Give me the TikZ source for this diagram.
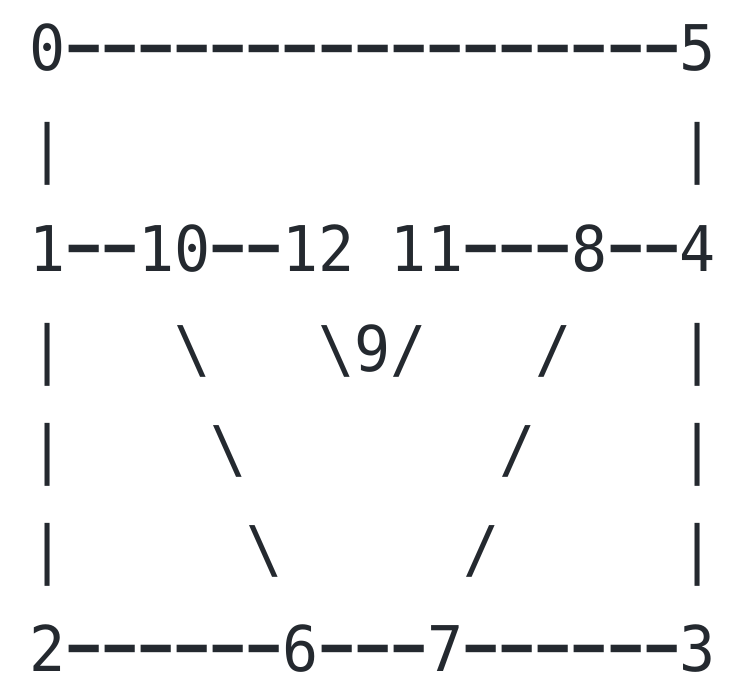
\documentclass[tikz,border=0pt]{standalone}
\usepackage{fontspec}
\usepackage{graphicx}
\newfontfamily\asciifont{DejaVu Sans Mono}
\newfontfamily\dashfont{DejaVu Sans}
\definecolor{ink}{RGB}{36,41,47}
\newcommand\dsh{\makebox[0.602em][c]{\raisebox{-0.06em}{\scalebox{1.91}[1.48]{\dashfont -}}}}
\newcommand\bsl{\textbackslash}
\newcommand\gap{\phantom{0}}

\begin{document}
\begin{tikzpicture}[x=1pt,y=1pt]

    % `row' is used for every line of the drawing.
    \tikzstyle{row} = [anchor=base west,inner sep=0pt,text=ink,
      yscale=1.05,transform shape,
      font=\asciifont\fontsize{60}{60}\selectfont]
    %
    \useasboundingbox (0,0) rectangle (736,-698);

    % Top edge.
    \node[row] (row0) at (29.5,-71)
      {0\dsh\dsh\dsh\dsh\dsh\dsh\dsh\dsh\dsh\dsh\dsh\dsh\dsh\dsh\dsh\dsh\dsh5};
    \node[row] (row1) at (29.5,-171)
      {|\gap\gap\gap\gap\gap\gap\gap\gap\gap\gap\gap\gap\gap\gap\gap\gap\gap|};

    % Middle row.
    \node[row] (row2) at (29.5,-271)
      {1\dsh\dsh10\dsh\dsh12\gap11\dsh\dsh\dsh8\dsh\dsh4};

    % Slanted links.
    \node[row] (row3) at (29.5,-371)
      {|\gap\gap\gap\bsl\gap\gap\gap\bsl9/\gap\gap\gap/\gap\gap\gap|};
    \node[row] (row4) at (29.5,-471)
      {|\gap\gap\gap\gap\bsl\gap\gap\gap\gap\gap\gap\gap/\gap\gap\gap\gap|};
    \node[row] (row5) at (29.5,-571)
      {|\gap\gap\gap\gap\gap\bsl\gap\gap\gap\gap\gap/\gap\gap\gap\gap\gap|};

    % Bottom edge.
    \node[row] (row6) at (29.5,-671)
      {2\dsh\dsh\dsh\dsh\dsh\dsh6\dsh\dsh\dsh7\dsh\dsh\dsh\dsh\dsh\dsh3};
    %
\end{tikzpicture}
\end{document}
